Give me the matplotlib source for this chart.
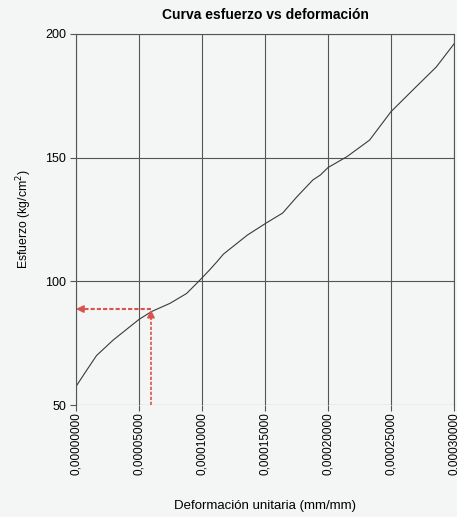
import matplotlib
matplotlib.use("Agg")
from matplotlib import pyplot as plt

plt.rcParams['font.family'] = ['Liberation Sans', 'DejaVu Sans']

# curva (deformación x1e-5, esfuerzo kg/cm2)
strain_e5 = [0.0, 0.84, 1.63, 2.96, 5.0, 6.0, 7.46, 8.78, 9.7, 10.6, 11.2, 11.7,
             13.6, 15.1, 16.4, 17.5, 18.8, 19.4, 20.0, 21.5, 23.3, 25.0, 27.0,
             28.6, 30.0]
stress = [57.5, 64.0, 70.0, 76.3, 84.6, 87.8, 91.1, 95.1, 99.8, 104.6, 108.0, 111.0,
          118.7, 123.6, 127.6, 134.0, 141.0, 143.0, 146.0, 150.4, 157.1, 168.6, 178.7,
          186.7, 196.0]
strain = [s * 1e-5 for s in strain_e5]

# punto de lectura (flechas rojas)
read_strain = 5.95e-5
read_stress = 88.8

x_ticks = [0.0, 0.00005, 0.0001, 0.00015, 0.0002, 0.00025, 0.0003]
y_ticks = [50, 100, 150, 200]

W, H = 457, 517
fig = plt.figure(figsize=(W / 100, H / 100), dpi=100)
fig.patch.set_facecolor('#f4f5f5')
ax = fig.add_axes([76 / W, 1 - 405 / H, 378 / W, 371 / H])
ax.set_facecolor('#f4f5f5')

ax.set_xlim(0, 0.0003)
ax.set_ylim(50, 200)
ax.set_xticks(x_ticks)
ax.set_yticks(y_ticks)
ax.set_xticklabels([f"{v:.8f}".replace('.', ',') for v in x_ticks], rotation=90, fontsize=8.5)
ax.set_yticklabels([str(v) for v in y_ticks], fontsize=9)
ax.grid(True, color='#555555', linewidth=0.8)
ax.set_axisbelow(True)
for side in ['top', 'right', 'left']:
    ax.spines[side].set_color('#555555')
    ax.spines[side].set_linewidth(0.8)
ax.spines['bottom'].set_visible(False)
ax.tick_params(axis='both', direction='out', length=4, color='#555555', width=0.8)
ax.tick_params(axis='x', pad=1)
ax.tick_params(axis='y', pad=3)

ax.plot(strain, stress, color='#3a3a3a', linewidth=0.8)

red = '#d9534f'
ax.plot([read_strain, 0.0000015], [read_stress, read_stress], color=red, linestyle='--',
        linewidth=1.5, dashes=(2, 1))
ax.plot([read_strain, read_strain], [50, read_stress - 1.5], color=red, linestyle='--',
        linewidth=1.2, dashes=(2, 1))
ax.annotate('', xy=(0, read_stress), xytext=(0.000006, read_stress),
            arrowprops=dict(arrowstyle='-|>', color=red, lw=1.2, mutation_scale=11,
                            shrinkA=0, shrinkB=0))
ax.annotate('', xy=(read_strain, read_stress - 0.3), xytext=(read_strain, read_stress - 3.5),
            arrowprops=dict(arrowstyle='-|>', color=red, lw=1.2, mutation_scale=11,
                            shrinkA=0, shrinkB=0))

ax.set_title("Curva esfuerzo vs deformación", fontsize=10, fontweight='bold', pad=11)
ax.set_ylabel("Esfuerzo (kg/cm$^2$)", fontsize=8.8, labelpad=8)
ax.set_xlabel("Deformación unitaria (mm/mm)", fontsize=9.5, labelpad=18)

fig.savefig("out.png", dpi=100, facecolor=fig.get_facecolor())
